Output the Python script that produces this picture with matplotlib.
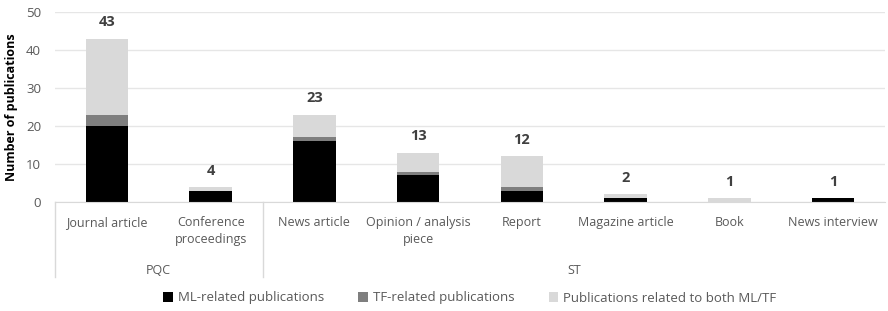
import numpy as np
import matplotlib.pyplot as plt
import matplotlib.transforms as mtransforms

plt.rcParams['font.family'] = ['Open Sans', 'DejaVu Sans']

categories = ["Journal article", "Conference\nproceedings", "News article",
              "Opinion / analysis\npiece", "Report", "Magazine article",
              "Book", "News interview"]
groups = ["PQC", "ST"]
group_sizes = [2, 6]
ml = [20, 3, 16, 7, 3, 1, 0, 1]
tf = [3, 0, 1, 1, 1, 0, 0, 0]
both = [20, 1, 6, 5, 8, 1, 1, 0]

series_names = ["ML-related publications", "TF-related publications",
                "Publications related to both ML/TF"]
colors = ["#000000", "#7f7f7f", "#d9d9d9"]
text_col = "#595959"

fig = plt.figure(figsize=(8.88, 3.11), dpi=100)
ax = fig.add_axes([55 / 888, 1 - 202 / 311, 830 / 888, 190 / 311])

x = np.arange(len(categories))
w = 0.41
bottom = np.zeros(len(categories))
for vals, name, c in zip([ml, tf, both], series_names, colors):
    ax.bar(x, vals, w, bottom=bottom, color=c, label=name, zorder=3)
    bottom += np.array(vals)

for xi, tot in zip(x, bottom):
    ax.text(xi, tot + 2.4, f"{int(tot)}", ha="center", va="bottom",
            fontsize=10.5, fontweight="bold", color="#404040")

ax.set_xlim(-0.5, len(categories) - 0.5)
ax.set_ylim(0, 50)
ax.set_yticks(range(0, 51, 10))
ax.yaxis.grid(True, color="#e6e6e6", linewidth=1, zorder=0)
ax.tick_params(axis="y", length=0, labelsize=9.5, labelcolor=text_col, pad=10)
ax.set_ylabel("Number of publications", fontsize=9, fontweight="bold",
              color="#000000", labelpad=6)

ax.set_xticks(x)
ax.set_xticklabels(categories, fontsize=9, color=text_col, va="top",
                   linespacing=1.4)
ax.tick_params(axis="x", length=0, pad=10)

for s in ["top", "right", "left"]:
    ax.spines[s].set_visible(False)
ax.spines["bottom"].set_color("#d9d9d9")
ax.spines["bottom"].set_zorder(4)

trans = mtransforms.blended_transform_factory(ax.transData, ax.transAxes)
line_bottom = -(277 - 202) / 190
start = -0.5
for g, n in zip(groups, group_sizes):
    ax.plot([start, start], [0, line_bottom], transform=trans, color="#d9d9d9",
            linewidth=1, clip_on=False)
    ax.text(start + n / 2, -(270 - 202) / 190, g, transform=trans, ha="center",
            va="center", fontsize=9, color=text_col)
    start += n

ax.legend(loc="center", bbox_to_anchor=(0.5, -(298 - 202) / 190), ncol=3,
          frameon=False, fontsize=9.5, handlelength=0.7, handleheight=0.7,
          columnspacing=2.6, handletextpad=0.4, labelcolor=text_col)

fig.savefig("out.png", dpi=100)
